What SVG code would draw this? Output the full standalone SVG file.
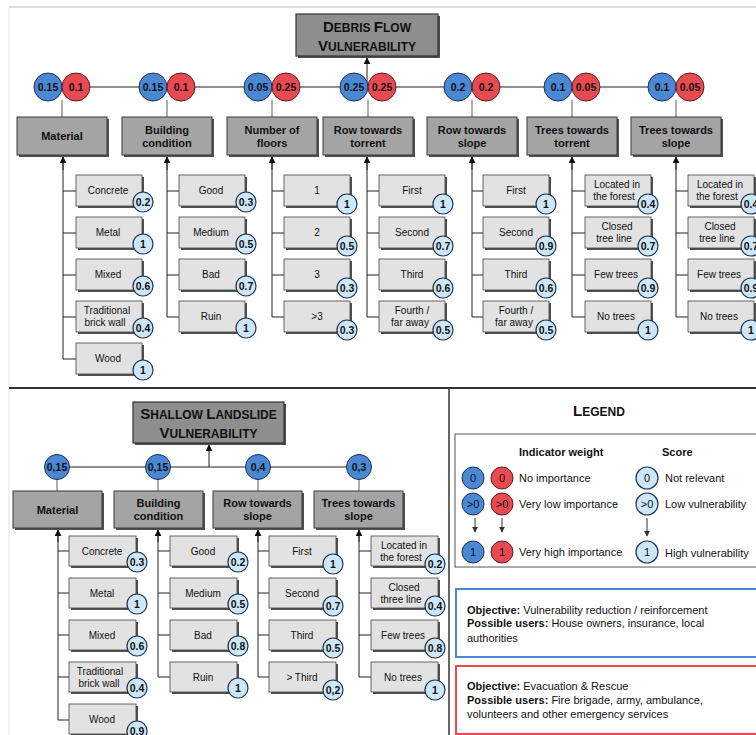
<svg xmlns="http://www.w3.org/2000/svg" width="756" height="735" viewBox="0 0 756 735">
<defs>
<marker id="ah" viewBox="0 0 8 8" refX="7" refY="4" markerWidth="7" markerHeight="7" orient="auto" markerUnits="userSpaceOnUse"><path d="M0,0 L8,4 L0,8 z" fill="#111"/></marker>
<marker id="ahs" viewBox="0 0 8 8" refX="7" refY="4" markerWidth="6" markerHeight="6" orient="auto" markerUnits="userSpaceOnUse"><path d="M0,0 L8,4 L0,8 z" fill="#333"/></marker>
</defs>
<style>
text{font-family:"Liberation Sans",Arial,sans-serif;fill:#111}
.cat{fill:#a4a4a4;stroke:#3a3a3a;stroke-width:1}
.ttl{fill:#8e8e8e;stroke:#333;stroke-width:1.2}
.ch{fill:#e2e2e2;stroke:#444;stroke-width:0.8}
.sh{fill:#505050}
.b{fill:#4a88d4;stroke:#1c2f5a;stroke-width:1}
.r{fill:#e84a52;stroke:#5a1c20;stroke-width:1}
.s{fill:#cde7f8;stroke:#1f3550;stroke-width:1.2}
.ln{stroke:#222;stroke-width:1;fill:none}
.lg{stroke:#777;stroke-width:1.2;fill:none}
.ct{font-size:11px;font-weight:bold;text-anchor:middle}
.cl{font-size:10px;text-anchor:middle}
.wt{font-size:10.5px;font-weight:bold;text-anchor:middle}
.st{font-size:10.5px;font-weight:bold;text-anchor:middle}
.tt{font-weight:bold;text-anchor:middle;fill:#111}
.lt{font-size:11px}
.lb{font-size:11px;font-weight:bold}
.ob{font-size:11px}
</style>
<rect width="756" height="735" fill="#fff"/>
<line x1="9" y1="7" x2="756" y2="7" stroke="#bbb" stroke-width="1.2"/>
<line x1="9" y1="7" x2="9" y2="735" stroke="#e4e4e4" stroke-width="1"/>
<line x1="9" y1="388" x2="756" y2="388" stroke="#333" stroke-width="2"/>
<line x1="449" y1="388" x2="449" y2="735" stroke="#333" stroke-width="1.5"/>

<g id="connectors">
<line class="ln" x1="48" y1="87" x2="690" y2="87"/>
<line class="ln" x1="367" y1="87" x2="367" y2="58" marker-end="url(#ah)"/>
<line class="lg" x1="62" y1="100" x2="62" y2="117"/>
<line class="lg" x1="167" y1="100" x2="167" y2="117"/>
<line class="lg" x1="272" y1="100" x2="272" y2="117"/>
<line class="lg" x1="368" y1="100" x2="368" y2="117"/>
<line class="lg" x1="472" y1="100" x2="472" y2="117"/>
<line class="lg" x1="572" y1="100" x2="572" y2="117"/>
<line class="lg" x1="676" y1="100" x2="676" y2="117"/>
<path class="ln" d="M63,359 V157 M63,191 H76 M63,233 H76 M63,275 H76 M63,317 H76 M63,359 H76" />
<line class="ln" x1="63" y1="170" x2="63" y2="157" marker-end="url(#ah)"/>
<path class="ln" d="M167,317 V157 M167,191 H179 M167,233 H179 M167,275 H179 M167,317 H179"/>
<line class="ln" x1="167" y1="170" x2="167" y2="157" marker-end="url(#ah)"/>
<path class="ln" d="M272,317 V157 M272,191 H284 M272,233 H284 M272,275 H284 M272,317 H284"/>
<line class="ln" x1="272" y1="170" x2="272" y2="157" marker-end="url(#ah)"/>
<path class="ln" d="M367,317 V157 M367,191 H379 M367,233 H379 M367,275 H379 M367,317 H379"/>
<line class="ln" x1="367" y1="170" x2="367" y2="157" marker-end="url(#ah)"/>
<path class="ln" d="M472,317 V157 M472,191 H483 M472,233 H483 M472,275 H483 M472,317 H483"/>
<line class="ln" x1="472" y1="170" x2="472" y2="157" marker-end="url(#ah)"/>
<path class="ln" d="M572,317 V157 M572,191 H585 M572,233 H585 M572,275 H585 M572,317 H585"/>
<line class="ln" x1="572" y1="170" x2="572" y2="157" marker-end="url(#ah)"/>
<path class="ln" d="M676,317 V157 M676,191 H688 M676,233 H688 M676,275 H688 M676,317 H688"/>
<line class="ln" x1="676" y1="170" x2="676" y2="157" marker-end="url(#ah)"/>

<line class="ln" x1="57" y1="467" x2="359" y2="467"/>
<line class="ln" x1="209" y1="467" x2="209" y2="445" marker-end="url(#ah)"/>
<line class="lg" x1="57" y1="479" x2="57" y2="491"/>
<line class="lg" x1="158" y1="479" x2="158" y2="491"/>
<line class="lg" x1="258" y1="479" x2="258" y2="491"/>
<line class="lg" x1="359" y1="479" x2="359" y2="491"/>
<path class="ln" d="M58,720 V530 M58,551 H69 M58,593 H69 M58,635 H69 M58,677 H69 M58,720 H69"/>
<line class="ln" x1="58" y1="542" x2="58" y2="530" marker-end="url(#ah)"/>
<path class="ln" d="M158,677 V530 M158,551 H170 M158,593 H170 M158,635 H170 M158,677 H170"/>
<line class="ln" x1="158" y1="542" x2="158" y2="530" marker-end="url(#ah)"/>
<path class="ln" d="M258,677 V530 M258,551 H269 M258,593 H269 M258,635 H269 M258,677 H269"/>
<line class="ln" x1="258" y1="542" x2="258" y2="530" marker-end="url(#ah)"/>
<path class="ln" d="M359,677 V530 M359,551 H371 M359,593 H371 M359,635 H371 M359,677 H371"/>
<line class="ln" x1="359" y1="542" x2="359" y2="530" marker-end="url(#ah)"/>
</g>

<!-- TOP PANEL -->
<g id="title-debris">
<rect class="sh" x="298" y="16" width="142" height="42"/>
<rect class="ttl" x="296" y="14" width="142" height="42"/>
<text class="tt" x="367" y="32"><tspan font-size="15">D</tspan><tspan font-size="12">EBRIS </tspan><tspan font-size="15">F</tspan><tspan font-size="12">LOW</tspan></text>
<text class="tt" x="367" y="51"><tspan font-size="15">V</tspan><tspan font-size="12">ULNERABILITY</tspan></text>
</g>

<g id="w-material"><circle class="b" cx="48" cy="87" r="14"/><circle class="r" cx="76" cy="87" r="14"/><text class="wt" x="48" y="91">0.15</text><text class="wt" x="76" y="91">0.1</text></g>
<g id="w-building"><circle class="b" cx="153" cy="87" r="14"/><circle class="r" cx="181" cy="87" r="14"/><text class="wt" x="153" y="91">0.15</text><text class="wt" x="181" y="91">0.1</text></g>
<g id="w-floors"><circle class="b" cx="258" cy="87" r="14"/><circle class="r" cx="286" cy="87" r="14"/><text class="wt" x="258" y="91">0.05</text><text class="wt" x="286" y="91">0.25</text></g>
<g id="w-rowtorrent"><circle class="b" cx="354" cy="87" r="14"/><circle class="r" cx="382" cy="87" r="14"/><text class="wt" x="354" y="91">0.25</text><text class="wt" x="382" y="91">0.25</text></g>
<g id="w-rowslope"><circle class="b" cx="458" cy="87" r="14"/><circle class="r" cx="486" cy="87" r="14"/><text class="wt" x="458" y="91">0.2</text><text class="wt" x="486" y="91">0.2</text></g>
<g id="w-treestorrent"><circle class="b" cx="558" cy="87" r="14"/><circle class="r" cx="586" cy="87" r="14"/><text class="wt" x="558" y="91">0.1</text><text class="wt" x="586" y="91">0.05</text></g>
<g id="w-treesslope"><circle class="b" cx="662" cy="87" r="14"/><circle class="r" cx="690" cy="87" r="14"/><text class="wt" x="662" y="91">0.1</text><text class="wt" x="690" y="91">0.05</text></g>

<g id="c-material"><rect class="sh" x="19" y="119" width="90" height="38"/><rect class="cat" x="17" y="117" width="90" height="38"/><text class="ct" x="62" y="140">Material</text></g>
<g id="c-building"><rect class="sh" x="124" y="119" width="90" height="38"/><rect class="cat" x="122" y="117" width="90" height="38"/><text class="ct" x="167" y="134">Building</text><text class="ct" x="167" y="147">condition</text></g>
<g id="c-floors"><rect class="sh" x="229" y="119" width="90" height="38"/><rect class="cat" x="227" y="117" width="90" height="38"/><text class="ct" x="272" y="134">Number of</text><text class="ct" x="272" y="147">floors</text></g>
<g id="c-rowtorrent"><rect class="sh" x="325" y="119" width="90" height="38"/><rect class="cat" x="323" y="117" width="90" height="38"/><text class="ct" x="368" y="134">Row towards</text><text class="ct" x="368" y="147">torrent</text></g>
<g id="c-rowslope"><rect class="sh" x="429" y="119" width="90" height="38"/><rect class="cat" x="427" y="117" width="90" height="38"/><text class="ct" x="472" y="134">Row towards</text><text class="ct" x="472" y="147">slope</text></g>
<g id="c-treestorrent"><rect class="sh" x="529" y="119" width="90" height="38"/><rect class="cat" x="527" y="117" width="90" height="38"/><text class="ct" x="572" y="134">Trees towards</text><text class="ct" x="572" y="147">torrent</text></g>
<g id="c-treesslope"><rect class="sh" x="633" y="119" width="90" height="38"/><rect class="cat" x="631" y="117" width="90" height="38"/><text class="ct" x="676" y="134">Trees towards</text><text class="ct" x="676" y="147">slope</text></g>

<!-- Material children -->
<g id="t-mat-concrete"><rect class="sh" x="78" y="177" width="66" height="31"/><rect class="ch" x="76" y="175" width="66" height="31"/><text class="cl" x="108" y="194">Concrete</text><circle class="s" cx="143" cy="202" r="10"/><text class="st" x="143" y="206">0.2</text></g>
<g id="t-mat-metal"><rect class="sh" x="78" y="219" width="66" height="31"/><rect class="ch" x="76" y="217" width="66" height="31"/><text class="cl" x="108" y="236">Metal</text><circle class="s" cx="143" cy="244" r="10"/><text class="st" x="143" y="248">1</text></g>
<g id="t-mat-mixed"><rect class="sh" x="78" y="261" width="66" height="31"/><rect class="ch" x="76" y="259" width="66" height="31"/><text class="cl" x="108" y="278">Mixed</text><circle class="s" cx="143" cy="286" r="10"/><text class="st" x="143" y="290">0.6</text></g>
<g id="t-mat-brick"><rect class="sh" x="78" y="303" width="66" height="31"/><rect class="ch" x="76" y="301" width="66" height="31"/><text class="cl" x="107" y="314">Traditional</text><text class="cl" x="105" y="326">brick wall</text><circle class="s" cx="143" cy="328" r="10"/><text class="st" x="143" y="332">0.4</text></g>
<g id="t-mat-wood"><rect class="sh" x="78" y="345" width="66" height="31"/><rect class="ch" x="76" y="343" width="66" height="31"/><text class="cl" x="108" y="362">Wood</text><circle class="s" cx="143" cy="370" r="10"/><text class="st" x="143" y="374">1</text></g>

<!-- Building children -->
<g id="t-bld-good"><rect class="sh" x="181" y="177" width="66" height="31"/><rect class="ch" x="179" y="175" width="66" height="31"/><text class="cl" x="211" y="194">Good</text><circle class="s" cx="246" cy="202" r="10"/><text class="st" x="246" y="206">0.3</text></g>
<g id="t-bld-medium"><rect class="sh" x="181" y="219" width="66" height="31"/><rect class="ch" x="179" y="217" width="66" height="31"/><text class="cl" x="211" y="236">Medium</text><circle class="s" cx="246" cy="244" r="10"/><text class="st" x="246" y="248">0.5</text></g>
<g id="t-bld-bad"><rect class="sh" x="181" y="261" width="66" height="31"/><rect class="ch" x="179" y="259" width="66" height="31"/><text class="cl" x="211" y="278">Bad</text><circle class="s" cx="246" cy="286" r="10"/><text class="st" x="246" y="290">0.7</text></g>
<g id="t-bld-ruin"><rect class="sh" x="181" y="303" width="66" height="31"/><rect class="ch" x="179" y="301" width="66" height="31"/><text class="cl" x="211" y="320">Ruin</text><circle class="s" cx="246" cy="328" r="10"/><text class="st" x="246" y="332">1</text></g>

<!-- Floors children -->
<g id="t-fl-1"><rect class="sh" x="286" y="177" width="66" height="31"/><rect class="ch" x="284" y="175" width="66" height="31"/><text class="cl" x="317" y="194">1</text><circle class="s" cx="347" cy="204" r="10"/><text class="st" x="347" y="208">1</text></g>
<g id="t-fl-2"><rect class="sh" x="286" y="219" width="66" height="31"/><rect class="ch" x="284" y="217" width="66" height="31"/><text class="cl" x="317" y="236">2</text><circle class="s" cx="347" cy="246" r="10"/><text class="st" x="347" y="250">0.5</text></g>
<g id="t-fl-3"><rect class="sh" x="286" y="261" width="66" height="31"/><rect class="ch" x="284" y="259" width="66" height="31"/><text class="cl" x="317" y="278">3</text><circle class="s" cx="347" cy="288" r="10"/><text class="st" x="347" y="292">0.3</text></g>
<g id="t-fl-4"><rect class="sh" x="286" y="303" width="66" height="31"/><rect class="ch" x="284" y="301" width="66" height="31"/><text class="cl" x="317" y="320">&gt;3</text><circle class="s" cx="347" cy="330" r="10"/><text class="st" x="347" y="334">0.3</text></g>

<!-- Row torrent children -->
<g id="t-rt-first"><rect class="sh" x="381" y="177" width="66" height="31"/><rect class="ch" x="379" y="175" width="66" height="31"/><text class="cl" x="412" y="194">First</text><circle class="s" cx="443" cy="204" r="10"/><text class="st" x="443" y="208">1</text></g>
<g id="t-rt-second"><rect class="sh" x="381" y="219" width="66" height="31"/><rect class="ch" x="379" y="217" width="66" height="31"/><text class="cl" x="412" y="236">Second</text><circle class="s" cx="443" cy="246" r="10"/><text class="st" x="443" y="250">0.7</text></g>
<g id="t-rt-third"><rect class="sh" x="381" y="261" width="66" height="31"/><rect class="ch" x="379" y="259" width="66" height="31"/><text class="cl" x="412" y="278">Third</text><circle class="s" cx="443" cy="288" r="10"/><text class="st" x="443" y="292">0.6</text></g>
<g id="t-rt-fourth"><rect class="sh" x="381" y="303" width="66" height="31"/><rect class="ch" x="379" y="301" width="66" height="31"/><text class="cl" x="412" y="314">Fourth /</text><text class="cl" x="410" y="326">far away</text><circle class="s" cx="443" cy="330" r="10"/><text class="st" x="443" y="334">0.5</text></g>

<!-- Row slope children -->
<g id="t-rs-first"><rect class="sh" x="485" y="177" width="66" height="31"/><rect class="ch" x="483" y="175" width="66" height="31"/><text class="cl" x="516" y="194">First</text><circle class="s" cx="546" cy="204" r="10"/><text class="st" x="546" y="208">1</text></g>
<g id="t-rs-second"><rect class="sh" x="485" y="219" width="66" height="31"/><rect class="ch" x="483" y="217" width="66" height="31"/><text class="cl" x="516" y="236">Second</text><circle class="s" cx="546" cy="246" r="10"/><text class="st" x="546" y="250">0.9</text></g>
<g id="t-rs-third"><rect class="sh" x="485" y="261" width="66" height="31"/><rect class="ch" x="483" y="259" width="66" height="31"/><text class="cl" x="516" y="278">Third</text><circle class="s" cx="546" cy="288" r="10"/><text class="st" x="546" y="292">0.6</text></g>
<g id="t-rs-fourth"><rect class="sh" x="485" y="303" width="66" height="31"/><rect class="ch" x="483" y="301" width="66" height="31"/><text class="cl" x="516" y="314">Fourth /</text><text class="cl" x="514" y="326">far away</text><circle class="s" cx="546" cy="330" r="10"/><text class="st" x="546" y="334">0.5</text></g>

<!-- Trees torrent children -->
<g id="t-tt-forest"><rect class="sh" x="587" y="177" width="66" height="31"/><rect class="ch" x="585" y="175" width="66" height="31"/><text class="cl" x="617" y="188">Located in</text><text class="cl" x="614" y="200">the forest</text><circle class="s" cx="648" cy="204" r="10"/><text class="st" x="648" y="208">0.4</text></g>
<g id="t-tt-closed"><rect class="sh" x="587" y="219" width="66" height="31"/><rect class="ch" x="585" y="217" width="66" height="31"/><text class="cl" x="617" y="230">Closed</text><text class="cl" x="614" y="242">tree line</text><circle class="s" cx="648" cy="246" r="10"/><text class="st" x="648" y="250">0.7</text></g>
<g id="t-tt-few"><rect class="sh" x="587" y="261" width="66" height="31"/><rect class="ch" x="585" y="259" width="66" height="31"/><text class="cl" x="616" y="278">Few trees</text><circle class="s" cx="648" cy="288" r="10"/><text class="st" x="648" y="292">0.9</text></g>
<g id="t-tt-no"><rect class="sh" x="587" y="303" width="66" height="31"/><rect class="ch" x="585" y="301" width="66" height="31"/><text class="cl" x="616" y="320">No trees</text><circle class="s" cx="648" cy="330" r="10"/><text class="st" x="648" y="334">1</text></g>

<!-- Trees slope children -->
<g id="t-ts-forest"><rect class="sh" x="690" y="177" width="66" height="31"/><rect class="ch" x="688" y="175" width="66" height="31"/><text class="cl" x="720" y="188">Located in</text><text class="cl" x="717" y="200">the forest</text><circle class="s" cx="751" cy="204" r="10"/><text class="st" x="751" y="208">0.4</text></g>
<g id="t-ts-closed"><rect class="sh" x="690" y="219" width="66" height="31"/><rect class="ch" x="688" y="217" width="66" height="31"/><text class="cl" x="720" y="230">Closed</text><text class="cl" x="717" y="242">tree line</text><circle class="s" cx="751" cy="246" r="10"/><text class="st" x="751" y="250">0.7</text></g>
<g id="t-ts-few"><rect class="sh" x="690" y="261" width="66" height="31"/><rect class="ch" x="688" y="259" width="66" height="31"/><text class="cl" x="719" y="278">Few trees</text><circle class="s" cx="751" cy="288" r="10"/><text class="st" x="751" y="292">0.9</text></g>
<g id="t-ts-no"><rect class="sh" x="690" y="303" width="66" height="31"/><rect class="ch" x="688" y="301" width="66" height="31"/><text class="cl" x="719" y="320">No trees</text><circle class="s" cx="751" cy="330" r="10"/><text class="st" x="751" y="334">1</text></g>

<!-- LOWER PANEL -->
<g id="title-shallow">
<rect class="sh" x="135" y="404" width="151" height="41"/>
<rect class="ttl" x="133" y="402" width="151" height="41"/>
<text class="tt" x="208.5" y="419"><tspan font-size="15">S</tspan><tspan font-size="12">HALLOW </tspan><tspan font-size="15">L</tspan><tspan font-size="12">ANDSLIDE</tspan></text>
<text class="tt" x="208.5" y="438"><tspan font-size="15">V</tspan><tspan font-size="12">ULNERABILITY</tspan></text>
</g>

<g id="lw-material"><circle class="b" cx="57" cy="467" r="12.5"/><text class="wt" x="57" y="471">0,15</text></g>
<g id="lw-building"><circle class="b" cx="158" cy="467" r="12.5"/><text class="wt" x="158" y="471">0,15</text></g>
<g id="lw-rowslope"><circle class="b" cx="258" cy="467" r="12.5"/><text class="wt" x="258" y="471">0,4</text></g>
<g id="lw-treesslope"><circle class="b" cx="359" cy="467" r="12.5"/><text class="wt" x="359" y="471">0,3</text></g>

<g id="lc-material"><rect class="sh" x="15" y="493" width="89" height="37"/><rect class="cat" x="13" y="491" width="89" height="37"/><text class="ct" x="57.5" y="514">Material</text></g>
<g id="lc-building"><rect class="sh" x="116" y="493" width="89" height="37"/><rect class="cat" x="114" y="491" width="89" height="37"/><text class="ct" x="158.5" y="507">Building</text><text class="ct" x="158.5" y="520">condition</text></g>
<g id="lc-rowslope"><rect class="sh" x="215" y="493" width="89" height="37"/><rect class="cat" x="213" y="491" width="89" height="37"/><text class="ct" x="257.5" y="507">Row towards</text><text class="ct" x="257.5" y="520">slope</text></g>
<g id="lc-treesslope"><rect class="sh" x="316" y="493" width="89" height="37"/><rect class="cat" x="314" y="491" width="89" height="37"/><text class="ct" x="358.5" y="507">Trees towards</text><text class="ct" x="358.5" y="520">slope</text></g>

<g id="l-mat-concrete"><rect class="sh" x="71" y="538" width="67" height="30"/><rect class="ch" x="69" y="536" width="67" height="30"/><text class="cl" x="102" y="555">Concrete</text><circle class="s" cx="137" cy="562" r="10"/><text class="st" x="137" y="566">0.3</text></g>
<g id="l-mat-metal"><rect class="sh" x="71" y="580" width="67" height="30"/><rect class="ch" x="69" y="578" width="67" height="30"/><text class="cl" x="102" y="597">Metal</text><circle class="s" cx="137" cy="604" r="10"/><text class="st" x="137" y="608">1</text></g>
<g id="l-mat-mixed"><rect class="sh" x="71" y="622" width="67" height="30"/><rect class="ch" x="69" y="620" width="67" height="30"/><text class="cl" x="102" y="639">Mixed</text><circle class="s" cx="137" cy="646" r="10"/><text class="st" x="137" y="650">0.6</text></g>
<g id="l-mat-brick"><rect class="sh" x="71" y="664" width="67" height="30"/><rect class="ch" x="69" y="662" width="67" height="30"/><text class="cl" x="100" y="675">Traditional</text><text class="cl" x="99" y="687">brick wall</text><circle class="s" cx="137" cy="688" r="10"/><text class="st" x="137" y="692">0.4</text></g>
<g id="l-mat-wood"><rect class="sh" x="71" y="706" width="67" height="30"/><rect class="ch" x="69" y="704" width="67" height="30"/><text class="cl" x="102" y="723">Wood</text><circle class="s" cx="137" cy="731" r="10"/><text class="st" x="137" y="735">0.9</text></g>

<g id="l-bld-good"><rect class="sh" x="172" y="538" width="67" height="30"/><rect class="ch" x="170" y="536" width="67" height="30"/><text class="cl" x="203" y="555">Good</text><circle class="s" cx="238" cy="562" r="10"/><text class="st" x="238" y="566">0.2</text></g>
<g id="l-bld-medium"><rect class="sh" x="172" y="580" width="67" height="30"/><rect class="ch" x="170" y="578" width="67" height="30"/><text class="cl" x="203" y="597">Medium</text><circle class="s" cx="238" cy="604" r="10"/><text class="st" x="238" y="608">0.5</text></g>
<g id="l-bld-bad"><rect class="sh" x="172" y="622" width="67" height="30"/><rect class="ch" x="170" y="620" width="67" height="30"/><text class="cl" x="203" y="639">Bad</text><circle class="s" cx="238" cy="646" r="10"/><text class="st" x="238" y="650">0.8</text></g>
<g id="l-bld-ruin"><rect class="sh" x="172" y="664" width="67" height="30"/><rect class="ch" x="170" y="662" width="67" height="30"/><text class="cl" x="203" y="681">Ruin</text><circle class="s" cx="238" cy="688" r="10"/><text class="st" x="238" y="692">1</text></g>

<g id="l-rs-first"><rect class="sh" x="271" y="538" width="67" height="30"/><rect class="ch" x="269" y="536" width="67" height="30"/><text class="cl" x="302" y="555">First</text><circle class="s" cx="333" cy="564" r="10"/><text class="st" x="333" y="568">1</text></g>
<g id="l-rs-second"><rect class="sh" x="271" y="580" width="67" height="30"/><rect class="ch" x="269" y="578" width="67" height="30"/><text class="cl" x="302" y="597">Second</text><circle class="s" cx="333" cy="606" r="10"/><text class="st" x="333" y="610">0.7</text></g>
<g id="l-rs-third"><rect class="sh" x="271" y="622" width="67" height="30"/><rect class="ch" x="269" y="620" width="67" height="30"/><text class="cl" x="302" y="639">Third</text><circle class="s" cx="333" cy="648" r="10"/><text class="st" x="333" y="652">0.5</text></g>
<g id="l-rs-fourth"><rect class="sh" x="271" y="664" width="67" height="30"/><rect class="ch" x="269" y="662" width="67" height="30"/><text class="cl" x="302" y="681">&gt; Third</text><circle class="s" cx="333" cy="690" r="10"/><text class="st" x="333" y="694">0,2</text></g>

<g id="l-ts-forest"><rect class="sh" x="373" y="538" width="67" height="30"/><rect class="ch" x="371" y="536" width="67" height="30"/><text class="cl" x="404" y="549">Located in</text><text class="cl" x="401" y="561">the forest</text><circle class="s" cx="435" cy="564" r="10"/><text class="st" x="435" y="568">0.2</text></g>
<g id="l-ts-closed"><rect class="sh" x="373" y="580" width="67" height="30"/><rect class="ch" x="371" y="578" width="67" height="30"/><text class="cl" x="404" y="591">Closed</text><text class="cl" x="401" y="603">three line</text><circle class="s" cx="435" cy="606" r="10"/><text class="st" x="435" y="610">0.4</text></g>
<g id="l-ts-few"><rect class="sh" x="373" y="622" width="67" height="30"/><rect class="ch" x="371" y="620" width="67" height="30"/><text class="cl" x="403" y="639">Few trees</text><circle class="s" cx="435" cy="648" r="10"/><text class="st" x="435" y="652">0.8</text></g>
<g id="l-ts-no"><rect class="sh" x="373" y="664" width="67" height="30"/><rect class="ch" x="371" y="662" width="67" height="30"/><text class="cl" x="403" y="681">No trees</text><circle class="s" cx="435" cy="690" r="10"/><text class="st" x="435" y="694">1</text></g>

<!-- LEGEND -->
<g id="legend">
<text class="tt" x="599" y="416"><tspan font-size="15">L</tspan><tspan font-size="12">EGEND</tspan></text>
<rect x="455" y="434" width="310" height="133" fill="#fff" stroke="#555" stroke-width="1"/>
<text class="lb" x="519" y="456">Indicator weight</text>
<text class="lb" x="662" y="456">Score</text>
<circle class="b" cx="473" cy="478" r="11"/><text class="lt" x="473" y="482" text-anchor="middle">0</text>
<circle class="r" cx="502" cy="478" r="11"/><text class="lt" x="502" y="482" text-anchor="middle">0</text>
<text class="lt" x="519" y="482">No importance</text>
<circle class="s" cx="647" cy="478" r="11"/><text class="lt" x="647" y="482" text-anchor="middle">0</text>
<text class="lt" x="665" y="482">Not relevant</text>
<circle class="b" cx="473" cy="504" r="11"/><text class="lt" x="473" y="508" text-anchor="middle">&gt;0</text>
<circle class="r" cx="502" cy="504" r="11"/><text class="lt" x="502" y="508" text-anchor="middle">&gt;0</text>
<text class="lt" x="519" y="508">Very low importance</text>
<circle class="s" cx="647" cy="504" r="11"/><text class="lt" x="647" y="508" text-anchor="middle">&gt;0</text>
<text class="lt" x="665" y="508">Low vulnerability</text>
<line x1="475" y1="518" x2="475" y2="532" stroke="#333" stroke-width="1" marker-end="url(#ahs)"/>
<line x1="502" y1="518" x2="502" y2="532" stroke="#333" stroke-width="1" marker-end="url(#ahs)"/>
<line x1="647" y1="518" x2="647" y2="536" stroke="#333" stroke-width="1" marker-end="url(#ahs)"/>
<circle class="b" cx="473" cy="552" r="11"/><text class="lt" x="473" y="556" text-anchor="middle">1</text>
<circle class="r" cx="502" cy="552" r="11"/><text class="lt" x="502" y="556" text-anchor="middle">1</text>
<text class="lt" x="519" y="556">Very high importance</text>
<circle class="s" cx="647" cy="552" r="11"/><text class="lt" x="647" y="556" text-anchor="middle">1</text>
<text class="lt" x="665" y="557">High vulnerability</text>
</g>

<g id="objective-blue">
<rect x="456" y="589" width="310" height="68" fill="#fff" stroke="#4a88d4" stroke-width="2"/>
<text class="ob" x="467" y="614"><tspan font-weight="bold">Objective:</tspan> Vulnerability reduction / reinforcement</text>
<text class="ob" x="467" y="627"><tspan font-weight="bold">Possible users:</tspan> House owners, insurance, local</text>
<text class="ob" x="467" y="642">authorities</text>
</g>
<g id="objective-red">
<rect x="456" y="666" width="310" height="68" fill="#fff" stroke="#e84a52" stroke-width="2"/>
<text class="ob" x="467" y="690"><tspan font-weight="bold">Objective:</tspan> Evacuation &amp; Rescue</text>
<text class="ob" x="467" y="704"><tspan font-weight="bold">Possible users:</tspan> Fire brigade, army, ambulance,</text>
<text class="ob" x="467" y="718">volunteers and other emergency services</text>
</g>
</svg>
